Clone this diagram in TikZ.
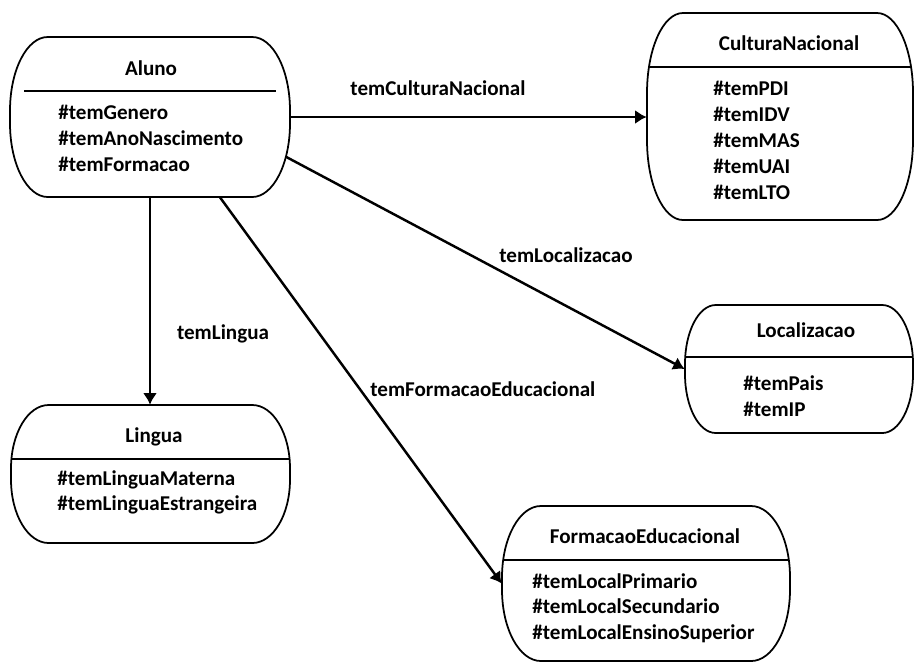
\documentclass[tikz,border=0pt]{standalone}
\usepackage{fontspec}
\setmainfont{Carlito}
\usetikzlibrary{arrows.meta,fit}

\tikzset{
  boxline/.style={line width=1pt, line join=round},
  divline/.style={line width=1.5pt},
  conn/.style={line width=1.4pt, -{Latex[length=6.5pt,width=8pt]}},
  txt/.style={font=\bfseries\fontsize{12}{14}\selectfont, inner sep=0pt},
  title/.style={txt, anchor=base},
  attr/.style={txt, anchor=base west},
  edgetext/.style={txt},
}

% Entity box with soft elliptical corners and a header divider.
% #1 name, #2 x0, #3 y0, #4 x1, #5 y1, #6 divider y, #7 divider inset
\newcommand\entitybox[7]{%
  \pgfmathsetmacro\ea{0.135*(#4-#2)}%
  \pgfmathsetmacro\eb{min(0.46*(#5-#3),80)}%
  \pgfmathsetmacro\xa{#2+\ea}%
  \pgfmathsetmacro\xb{#4-\ea}%
  \pgfmathsetmacro\ya{#3+\eb}%
  \pgfmathsetmacro\yb{#5-\eb}%
  \pgfmathsetmacro\ca{0.552*\ea}%
  \pgfmathsetmacro\cb{0.552*\eb}%
  \def\entityoutline{(\xa,#3) -- (\xb,#3)
    .. controls ({\xb+\ca},#3) and (#4,{\ya-\cb}) .. (#4,\ya) -- (#4,\yb)
    .. controls (#4,{\yb+\cb}) and ({\xb+\ca},#5) .. (\xb,#5) -- (\xa,#5)
    .. controls ({\xa-\ca},#5) and (#2,{\yb+\cb}) .. (#2,\yb) -- (#2,\ya)
    .. controls (#2,{\ya-\cb}) and ({\xa-\ca},#3) .. cycle}%
  \begin{scope}
    \clip \entityoutline;
    \draw[divline] ({#2+#7},#6) -- ({#4-#7},#6);
  \end{scope}
  \draw[boxline] \entityoutline;
  \node[fit={(#2,#3) (#4,#5)}, inner sep=0pt] (#1) {};
}

% Attribute lines: #1 name, #2 x, #3 first baseline, #4 spacing, #5 items
\newcommand\attrlist[5]{%
  \foreach \t [count=\i] in {#5} {
    \node[attr] (#1-\i) at (#2, {#3+(\i-1)*#4}) {\t};
  }%
}

\begin{document}
\begin{tikzpicture}[x=0.02cm, y=-0.02cm]
  \useasboundingbox[fill=white] (0,0) rectangle (915,664);

  % entities
  \entitybox{aluno}{10}{37}{290}{197}{91}{14}
  \entitybox{cultura}{647}{13}{913}{220}{67}{0}
  \entitybox{localizacao}{685}{305}{913}{433}{357}{0}
  \entitybox{lingua}{11}{405}{290}{543}{459}{0}
  \entitybox{formacao}{502}{506}{790}{661}{560}{0}

  % headers
  \node[title] (aluno-title) at (151,75) {Aluno};
  \node[title] (cultura-title) at (789,50) {CulturaNacional};
  \node[title] (localizacao-title) at (806,337) {Localizacao};
  \node[title] (lingua-title) at (154,442) {Lingua};
  \node[title] (formacao-title) at (645,543) {FormacaoEducacional};

  % attributes
  \attrlist{aluno}{58}{119.5}{26}{\#temGenero,\#temAnoNascimento,\#temFormacao}
  \attrlist{cultura}{713}{95}{26.2}{\#temPDI,\#temIDV,\#temMAS,\#temUAI,\#temLTO}
  \attrlist{localizacao}{743}{390}{26}{\#temPais,\#temIP}
  \attrlist{lingua}{57}{485}{25}{\#temLinguaMaterna,\#temLinguaEstrangeira}
  \attrlist{formacao}{532}{588}{25.5}{\#temLocalPrimario,\#temLocalSecundario,\#temLocalEnsinoSuperior}

  % relations
  \draw[conn] (aluno.east) -- (aluno.east -| cultura.west);
  \draw[conn] (aluno.south) -- (aluno.south |- lingua.north);
  \draw[conn] ([shift={(70,0)}]aluno.south) -- (formacao.west);
  \draw[conn] ([shift={(-4,40)}]aluno.east) -- (localizacao.west);

  % relation names
  \node[edgetext, anchor=base] (lbl-cultura) at (438,95) {temCulturaNacional};
  \node[edgetext, anchor=base] (lbl-lingua) at (223,339) {temLingua};
  \node[edgetext, anchor=base] (lbl-localizacao) at (566,262) {temLocalizacao};
  \node[edgetext, anchor=base west] (lbl-formacao) at (370,396) {temFormacaoEducacional};
\end{tikzpicture}
\end{document}
